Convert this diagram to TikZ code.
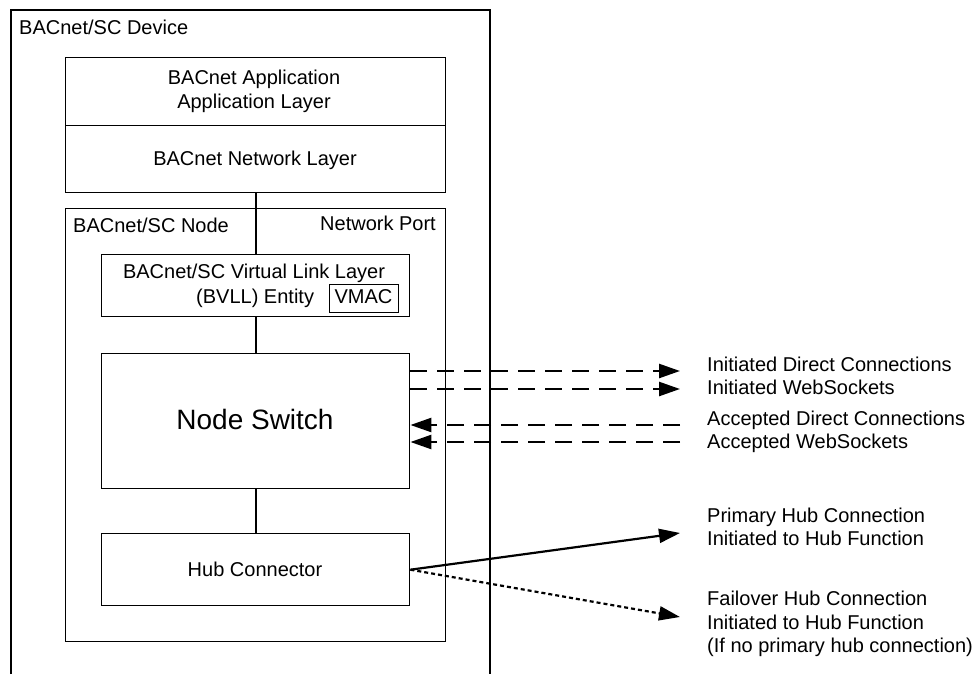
\documentclass[tikz,border=0pt]{standalone}
\usepackage{fontspec}
\setmainfont{Liberation Sans}
\usetikzlibrary{arrows.meta}
\begin{document}
\begin{tikzpicture}[x=1pt,y=-1pt,
  box/.style={draw,line width=1.4pt,inner sep=0pt,anchor=north west},
  txt/.style={inner sep=0pt,font=\fontsize{20}{24}\selectfont},
  bigtxt/.style={inner sep=0pt,font=\fontsize{28}{32}\selectfont},
  link/.style={line width=2pt},
  dashconn/.style={line width=2.5pt,dash pattern=on 17pt off 10pt},
  tip/.style={-{Triangle[length=21pt,width=14pt]}},
]
\useasboundingbox (0,0) rectangle (976,674);
\fill[white] (0,0) rectangle (976,674);

% device outline (open at bottom)
\draw[line width=1.4pt] (11,674) -- (11,10) -- (490,10) -- (490,674);
\node[txt,anchor=base west] (devlbl) at (19,35) {BACnet/SC Device};

% application and network layers
\node[box,minimum width=380pt,minimum height=68pt] (app) at (65,57) {};
\node[txt,anchor=base] (applbl1) at (254,85) {BACnet Application};
\node[txt,anchor=base] (applbl2) at (254,109) {Application Layer};
\node[box,minimum width=380pt,minimum height=67pt] (net) at (65,125) {};
\node[txt,anchor=base] (netlbl) at (255,165) {BACnet Network Layer};

% node / network port box
\node[box,minimum width=380pt,minimum height=433pt] (scnode) at (65,208) {};
\node[txt,anchor=base west] (nodelbl) at (73,232) {BACnet/SC Node};
\node[txt,anchor=base west] (portlbl) at (320,230) {Network Port};

% BVLL entity
\node[box,minimum width=308pt,minimum height=62pt] (bvll) at (101,254) {};
\node[txt,anchor=base] (bvlllbl1) at (254,278) {BACnet/SC Virtual Link Layer};
\node[txt,anchor=base west] (bvlllbl2) at (196,303) {(BVLL) Entity};
\node[box,minimum width=69pt,minimum height=28pt] (vmac) at (329,284) {};
\node[txt,anchor=base] (vmaclbl) at (363.5,303) {VMAC};

% node switch
\node[box,minimum width=308pt,minimum height=135pt] (sw) at (101,353) {};
\node[bigtxt,anchor=base] (swlbl) at (255,429) {Node Switch};

% hub connector
\node[box,minimum width=308pt,minimum height=72pt] (hub) at (101,533) {};
\node[txt,anchor=base] (hublbl) at (255,576) {Hub Connector};

% vertical links
\draw[link] (net.south) -- (bvll.north);
\draw[link] (bvll.south) -- (sw.north);
\draw[link] (sw.south) -- (hub.north);

% dashed connection arrows
\coordinate (i1) at (680,371);
\coordinate (i2) at (680,389);
\coordinate (a1) at (680,425);
\coordinate (a2) at (680,442);
\draw[dashconn,tip] (sw.east |- i1) -- (i1);
\draw[dashconn,tip] (sw.east |- i2) -- (i2);
\draw[dashconn,tip] (a1) -- (sw.east |- a1);
\draw[dashconn,tip] (a2) -- (sw.east |- a2);

\node[txt,anchor=base west] (li1) at (707,371) {Initiated Direct Connections};
\node[txt,anchor=base west] (li2) at (707,394) {Initiated WebSockets};
\node[txt,anchor=base west] (la1) at (707,425) {Accepted Direct Connections};
\node[txt,anchor=base west] (la2) at (707,448) {Accepted WebSockets};

% hub connections
\coordinate (hp) at (680,533);
\coordinate (hf) at (680,617);
\draw[line width=2.2pt,tip] (hub.east) -- (hp);
\draw[line width=2.2pt,dash pattern=on 4pt off 3pt,tip] (hub.east) -- (hf);

\node[txt,anchor=base west] (lp1) at (707,522) {Primary Hub Connection};
\node[txt,anchor=base west] (lp2) at (707,545) {Initiated to Hub Function};
\node[txt,anchor=base west] (lf1) at (707,605) {Failover Hub Connection};
\node[txt,anchor=base west] (lf2) at (707,629) {Initiated to Hub Function};
\node[txt,anchor=base west] (lf3) at (707,652) {(If no primary hub connection)};
\end{tikzpicture}
\end{document}
